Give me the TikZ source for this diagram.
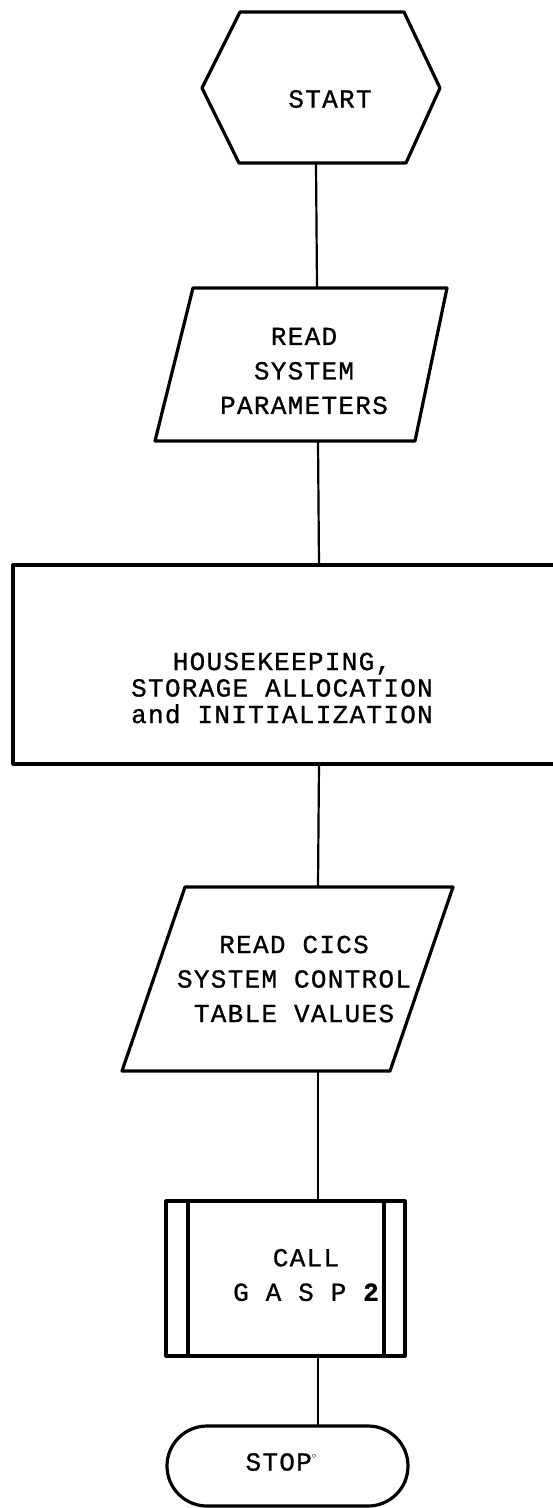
\documentclass[tikz,border=0pt]{standalone}
\usepackage{fontspec}
\newfontfamily\tw[LetterSpace=5,FakeBold=0.9]{Liberation Mono}
\begin{document}
\begin{tikzpicture}[x=1pt,y=-1pt,
  outline/.style={line width=3.2pt, line join=round},
  link/.style={line width=2.2pt},
  txt/.style={font=\tw\fontsize{26}{34.5}\selectfont, align=center, inner sep=0pt},
  txttight/.style={font=\tw\fontsize{26}{26.5}\selectfont, align=center, inner sep=0pt},
]
\fill[white] (0,0) rectangle (552,1508);
\useasboundingbox (0,0) rectangle (552,1508);

% terminal: START (hexagon)
\draw[outline] (240,12) -- (404,12) -- (440,88) -- (406,163) -- (239,163) -- (202,88) -- cycle;
\node[txt] (start) at (330,99) {START};
\coordinate (start-out) at (316,163);

% input: system parameters
\draw[outline] (193,288) -- (447,288) -- (415,441) -- (155,441) -- cycle;
\node[txt] (params) at (304,371) {READ\\SYSTEM\\PARAMETERS};
\coordinate (params-in) at (317,288);
\coordinate (params-out) at (318,441);

% process: housekeeping
\draw[outline] (556,565) -- (13,565) -- (13,764) -- (556,764);
\node[txttight] (house) at (282,688) {HOUSEKEEPING,\\STORAGE ALLOCATION\\and INITIALIZATION};
\coordinate (house-in) at (319,565);
\coordinate (house-out) at (319,764);

% input: CICS table values
\draw[outline] (185,887) -- (453,887) -- (390,1071) -- (122,1071) -- cycle;
\node[txt] (cics) at (294,979) {READ CICS\\SYSTEM CONTROL\\TABLE VALUES};
\coordinate (cics-in) at (318,887);
\coordinate (cics-out) at (318,1071);

% predefined process: call GASP 2
\draw[outline] (166,1201) rectangle (405,1356);
\draw[outline] (188,1201) -- (188,1356);
\draw[outline] (384,1201) -- (384,1356);
\node[txt] (gasp) at (306,1275) {CALL\\G A S P {\bfseries 2}};
\coordinate (gasp-in) at (318,1201);
\coordinate (gasp-out) at (318,1356);

% terminal: STOP
\draw[outline, rounded corners=40pt] (167,1426) rectangle (408,1506);
\node[txt] (stop) at (281,1462) {STOP\raisebox{12pt}{\fontsize{9}{9}\selectfont$\circ$}};
\coordinate (stop-in) at (318,1426);

% flow lines
\draw[link] (start-out) -- (params-in);
\draw[link] (params-out) -- (house-in);
\draw[link] (house-out) -- (cics-in);
\draw[link] (cics-out) -- (gasp-in);
\draw[link] (gasp-out) -- (stop-in);
\end{tikzpicture}
\end{document}
